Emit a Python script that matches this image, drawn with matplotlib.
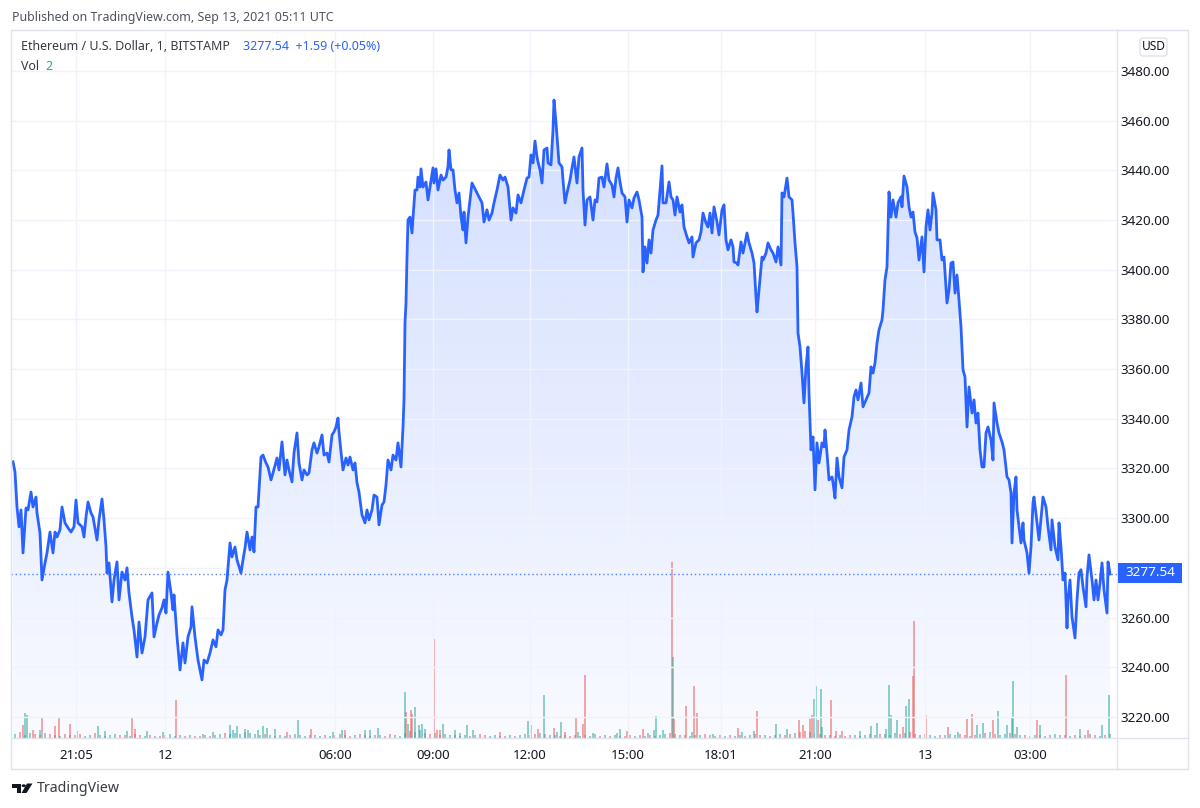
import numpy as np
import matplotlib
matplotlib.use("Agg")
import matplotlib.pyplot as plt
from matplotlib.patches import Rectangle, FancyBboxPatch, Polygon, Circle
from matplotlib.lines import Line2D

plt.rcParams['font.family'] = ['Noto Sans', 'DejaVu Sans']

# --- price series (bar index on the time axis, close price in USD) ---
bar = [13, 15, 17, 19, 21, 23, 26, 28, 31, 33, 36, 37, 40, 42, 45, 47, 50, 53, 55, 57,
       60, 62, 65, 68, 71, 74, 76, 78, 82, 84, 86, 88, 91, 93, 97, 99, 102, 104, 106, 107,
       109, 112, 114, 117, 119, 122, 125, 127, 129, 132, 134, 137, 139, 142, 145, 148, 152, 154, 157, 159,
       162, 164, 166, 168, 171, 173, 174, 177, 180, 183, 185, 188, 191, 192, 195, 198, 202, 204, 207, 210,
       213, 216, 218, 221, 223, 225, 227, 230, 232, 235, 237, 241, 243, 245, 247, 250, 252, 254, 256, 258,
       261, 263, 266, 268, 271, 273, 277, 279, 282, 285, 287, 289, 292, 294, 297, 299, 302, 304, 307, 309,
       312, 314, 317, 319, 322, 324, 327, 329, 332, 334, 336, 338, 339, 341, 343, 346, 348, 350, 353, 355,
       357, 359, 362, 365, 367, 369, 372, 374, 377, 379, 382, 384, 386, 388, 391, 393, 396, 398, 401, 403,
       404, 405, 406, 407, 408, 410, 412, 413, 415, 417, 418, 420, 421, 423, 426, 428, 430, 433, 434, 436,
       438, 441, 443, 446, 448, 449, 451, 453, 455, 457, 459, 461, 463, 464, 466, 468, 472, 474, 477, 479,
       482, 484, 487, 489, 492, 494, 497, 500, 503, 505, 508, 511, 513, 516, 518, 521, 524, 527, 529, 531,
       533, 535, 537, 538, 540, 542, 544, 547, 548, 551, 553, 554, 556, 558, 559, 562, 563, 565, 567, 570,
       572, 574, 577, 579, 582, 583, 585, 587, 590, 593, 595, 597, 599, 602, 604, 607, 609, 612, 614, 616,
       618, 620, 622, 625, 627, 629, 632, 634, 637, 639, 642, 643, 645, 647, 649, 651, 653, 656, 658, 660,
       662, 663, 666, 669, 671, 673, 675, 677, 680, 682, 684, 687, 689, 692, 693, 696, 699, 701, 703, 706,
       708, 710, 712, 714, 717, 719, 722, 724, 726, 728, 731, 733, 734, 737, 738, 741, 743, 747, 749, 752,
       754, 756, 757, 759, 762, 763, 766, 768, 771, 773, 776, 778, 781, 782, 784, 787, 789, 792, 793, 795,
       797, 798, 800, 802, 804, 806, 808, 809, 811, 813, 815, 817, 819, 822, 824, 825, 827, 829, 832, 833,
       835, 837, 839, 842, 844, 847, 849, 852, 854, 856, 858, 861, 863, 866, 869, 871, 873, 875, 877, 879,
       882, 883, 885, 887, 889, 891, 893, 896, 898, 901, 902, 904, 907, 909, 911, 913, 915, 917, 919, 922,
       924, 926, 928, 930, 932, 933, 936, 937, 940, 942, 944, 947, 949, 951, 953, 955, 957, 959, 961, 963,
       965, 967, 969, 972, 974, 976, 978, 980, 982, 984, 986, 988, 991, 993, 994, 997, 999, 1002, 1004, 1007,
       1009, 1011, 1012, 1014, 1016, 1017, 1019, 1021, 1023, 1024, 1027, 1028, 1029, 1031, 1033, 1034, 1037, 1039, 1042, 1043,
       1046, 1048, 1051, 1052, 1055, 1058, 1059, 1061, 1063, 1065, 1067, 1068, 1070, 1072, 1075, 1077, 1079, 1081, 1083, 1086,
       1087, 1089, 1092, 1094, 1096, 1098, 1100, 1102, 1104, 1107, 1108, 1110]

price = [3322.7, 3318.6, 3304.5, 3296.5, 3303.3, 3286.0, 3304.1, 3303.3, 3310.5, 3304.5, 3308.5, 3302.1, 3294.0, 3275.1, 3282.0, 3286.0, 3294.4, 3286.0, 3294.4, 3292.4,
         3295.3, 3304.5, 3298.1, 3296.1, 3294.4, 3296.5, 3307.3, 3298.1, 3296.5, 3292.4, 3300.5, 3306.5, 3302.1, 3300.5, 3291.2, 3299.3, 3307.7, 3299.3, 3288.4, 3277.9,
         3282.0, 3266.3, 3275.1, 3282.4, 3267.1, 3278.3, 3275.1, 3280.0, 3269.9, 3260.2, 3255.0, 3244.1, 3258.2, 3245.7, 3252.2, 3267.1, 3269.9, 3252.2, 3257.8, 3261.0,
         3263.9, 3267.1, 3261.8, 3278.3, 3269.9, 3263.1, 3269.1, 3252.2, 3238.9, 3249.8, 3241.7, 3252.2, 3256.2, 3264.3, 3252.2, 3242.9, 3234.9, 3242.9, 3241.7, 3245.7,
         3251.0, 3248.2, 3255.0, 3253.0, 3255.0, 3271.1, 3275.1, 3290.0, 3284.4, 3288.4, 3283.2, 3277.9, 3283.2, 3288.0, 3294.4, 3287.2, 3292.4, 3286.4, 3304.5, 3304.5,
         3324.6, 3325.4, 3322.2, 3320.6, 3315.4, 3318.2, 3324.2, 3319.4, 3330.7, 3317.4, 3323.4, 3319.4, 3314.6, 3326.2, 3334.3, 3322.2, 3315.4, 3319.4, 3317.4, 3318.2,
         3327.5, 3330.3, 3326.2, 3328.7, 3333.5, 3325.4, 3326.2, 3322.6, 3333.5, 3334.7, 3336.7, 3340.3, 3334.7, 3326.6, 3319.4, 3324.2, 3321.4, 3324.6, 3319.4, 3322.2,
         3314.2, 3310.5, 3301.3, 3298.1, 3303.3, 3299.3, 3303.3, 3309.3, 3308.5, 3297.3, 3305.3, 3306.5, 3313.4, 3323.4, 3319.4, 3325.4, 3323.4, 3330.3, 3320.6, 3336.7,
         3347.6, 3378.6, 3386.6, 3405.1, 3420.0, 3421.2, 3414.8, 3420.8, 3432.1, 3432.1, 3437.3, 3433.3, 3440.6, 3433.3, 3435.3, 3428.1, 3433.3, 3441.0, 3434.9, 3440.6,
         3432.1, 3438.1, 3436.1, 3437.3, 3441.4, 3448.2, 3440.2, 3440.2, 3432.1, 3426.9, 3430.9, 3421.2, 3416.0, 3423.2, 3410.8, 3421.2, 3434.9, 3433.3, 3430.9, 3429.3,
         3426.9, 3419.2, 3424.1, 3420.0, 3422.8, 3426.9, 3432.1, 3438.1, 3436.1, 3437.3, 3433.3, 3420.0, 3424.9, 3422.8, 3430.1, 3426.9, 3432.1, 3436.9, 3437.3, 3446.2,
         3443.0, 3451.8, 3445.4, 3443.4, 3440.2, 3434.9, 3448.2, 3449.0, 3443.0, 3442.2, 3456.3, 3468.3, 3459.1, 3448.2, 3443.0, 3441.4, 3436.1, 3426.9, 3430.9, 3436.1,
         3441.0, 3445.4, 3434.9, 3445.4, 3449.0, 3432.1, 3418.0, 3428.1, 3429.3, 3420.0, 3428.1, 3427.3, 3436.9, 3437.3, 3433.3, 3442.6, 3436.1, 3434.1, 3429.3, 3436.9,
         3441.0, 3435.3, 3430.9, 3429.3, 3419.2, 3428.1, 3424.9, 3428.9, 3431.3, 3428.1, 3421.2, 3399.1, 3409.2, 3402.7, 3412.0, 3406.7, 3416.0, 3420.0, 3422.0, 3432.1,
         3441.8, 3426.9, 3426.9, 3435.3, 3429.3, 3428.1, 3422.0, 3429.3, 3423.2, 3426.1, 3417.2, 3413.2, 3410.8, 3413.2, 3405.1, 3410.8, 3412.0, 3415.2, 3422.8, 3418.8,
         3417.2, 3422.8, 3414.8, 3425.3, 3419.2, 3414.0, 3424.1, 3426.1, 3412.0, 3408.0, 3412.0, 3409.2, 3403.1, 3402.7, 3401.9, 3411.2, 3406.7, 3414.8, 3410.8, 3406.7,
         3402.7, 3389.0, 3383.0, 3391.9, 3405.1, 3403.9, 3406.7, 3410.8, 3408.0, 3406.7, 3403.1, 3409.2, 3401.9, 3430.9, 3429.3, 3436.9, 3429.3, 3428.1, 3422.8, 3410.8,
         3401.1, 3374.5, 3368.9, 3358.4, 3346.4, 3360.9, 3368.9, 3350.4, 3327.5, 3332.7, 3311.4, 3330.3, 3322.2, 3330.3, 3328.7, 3335.5, 3326.2, 3315.4, 3316.6, 3314.2,
         3308.1, 3324.2, 3316.6, 3312.2, 3324.6, 3327.5, 3335.5, 3340.7, 3348.8, 3351.6, 3347.6, 3354.4, 3344.8, 3347.6, 3350.4, 3360.9, 3358.4, 3362.5, 3370.5, 3375.8,
         3379.8, 3383.8, 3395.9, 3401.1, 3431.3, 3421.2, 3428.1, 3421.2, 3426.9, 3429.3, 3425.3, 3437.7, 3433.3, 3425.3, 3421.2, 3423.2, 3415.2, 3412.8, 3403.9, 3413.2,
         3399.1, 3417.2, 3424.1, 3416.0, 3422.8, 3430.9, 3424.1, 3412.0, 3412.0, 3403.9, 3405.1, 3386.6, 3391.9, 3402.7, 3403.1, 3390.6, 3397.9, 3387.8, 3377.0, 3359.7,
         3356.8, 3336.7, 3352.8, 3342.3, 3347.6, 3338.3, 3342.3, 3327.5, 3320.6, 3320.6, 3334.3, 3336.7, 3331.5, 3323.4, 3346.4, 3338.3, 3334.3, 3330.7, 3327.5, 3316.6,
         3315.4, 3310.1, 3290.0, 3310.1, 3316.6, 3303.3, 3296.5, 3290.0, 3298.1, 3291.2, 3286.0, 3282.0, 3277.9, 3288.4, 3306.1, 3308.5, 3298.1, 3291.2, 3304.5, 3308.5,
         3304.5, 3296.5, 3287.2, 3299.3, 3288.4, 3283.2, 3298.1, 3288.4, 3275.1, 3277.9, 3255.8, 3267.1, 3275.1, 3260.2, 3251.8, 3267.1, 3277.9, 3279.2, 3272.3, 3264.3,
         3276.3, 3285.2, 3275.1, 3267.1, 3275.1, 3267.1, 3273.9, 3282.0, 3271.1, 3261.8, 3282.4, 3277.54]

last_price = 3277.54

# --- volume: larger prints (bar, size, direction) ---
spike_bar = [23, 25, 27, 33, 40, 42, 55, 59, 70, 77, 98, 105, 127, 132, 135, 147, 163, 176, 203, 213,
             230, 233, 237, 245, 248, 258, 263, 267, 275, 287, 298, 311, 333, 342, 345, 365, 370, 378, 405, 406,
             408, 411, 412, 415, 419, 422, 425, 434, 437, 440, 443, 455, 460, 467, 473, 500, 528, 531, 538, 544,
             554, 557, 561, 565, 576, 578, 583, 585, 593, 617, 620, 627, 643, 648, 654, 656, 663, 672, 673, 674,
             686, 692, 694, 697, 713, 738, 742, 754, 757, 776, 787, 799, 803, 810, 812, 814, 816, 818, 821, 822,
             831, 836, 842, 860, 871, 877, 886, 889, 891, 897, 903, 906, 909, 913, 914, 926, 948, 958, 967, 972,
             977, 983, 993, 998, 1007, 1012, 1013, 1017, 1037, 1040, 1066, 1080, 1088, 1102, 1109]
spike_vol = [13, 25, 23, 8, 8, 20, 12, 21, 14, 7, 12, 7, 7, 21, 9, 7, 6, 38, 4, 6,
             13, 8, 12, 9, 8, 8, 12, 10, 9, 6, 18, 9, 6, 8, 8, 8, 8, 10, 46, 26,
             14, 28, 24, 31, 13, 14, 9, 99, 8, 8, 14, 8, 5, 13, 8, 6, 17, 13, 9, 43,
             10, 6, 16, 6, 21, 6, 14, 63, 5, 5, 9, 7, 9, 5, 8, 22, 8, 176, 81, 19,
             32, 6, 52, 25, 4, 10, 6, 7, 27, 14, 9, 18, 13, 19, 23, 39, 52, 18, 49, 11,
             38, 7, 7, 7, 12, 15, 9, 53, 23, 18, 11, 32, 39, 62, 117, 23, 11, 6, 19, 24,
             13, 15, 18, 27, 13, 21, 57, 11, 18, 13, 63, 9, 8, 13, 43]
spike_dir = ("rggrgrrrrggggrrggrgg"
             "gggggggggrgrggrggggr"
             "grrggggrrrgggggrggrg"
             "rggrrgrrgggrrggggrgr"
             "rgrrgrggrggrrrrggrgg"
             "rrrgggggggrggrrrrgrr"
             "gg" "rgggggrgrg")

# --- volume: small prints every 5 bars from bar 15 ---
small_vol = [4, 6, 3, 5, 4, 3, 5, 4, 3, 2, 4, 3, 3, 4, 2, 3, 5, 3, 2, 3, 4, 3,
             3, 2, 4, 3, 2, 3, 2, 2, 3, 4, 2, 3, 2, 3, 2, 2, 3, 2, 3, 4, 5, 4,
             5, 4, 6, 5, 4, 3, 4, 3, 2, 3, 2, 3, 4, 3, 2, 3, 3, 2, 3, 2, 3, 4,
             3, 2, 3, 4, 3, 2, 3, 3, 2, 4, 3, 2, 5, 7, 6, 8, 5, 4, 5, 3, 4, 3,
             3, 2, 3, 2, 3, 4, 3, 2, 3, 2, 2, 3, 2, 3, 4, 3, 4, 5, 4, 3, 3, 2,
             3, 2, 3, 2, 3, 2, 4, 2, 3, 2, 3, 2, 2, 3, 2, 3, 2, 3, 2, 3, 4, 5,
             4, 3, 3, 2, 3, 3, 4, 3, 2, 3, 2, 3, 2, 3, 2, 3, 4, 3, 3, 2, 3, 4,
             3, 4, 5, 6, 7, 6, 5, 4, 3, 3, 2, 3, 2, 3, 3, 2, 3, 4, 3, 4, 4, 3,
             5, 4, 5, 6, 4, 3, 4, 3, 2, 3, 3, 4, 3, 4, 3, 2, 3, 4, 5, 6, 4, 3,
             4, 5, 4, 3, 3, 2, 3, 3, 2, 3, 4, 3, 3, 2, 3, 2, 3, 4, 3, 2, 3, 4]
small_dir = ("grggrrgrggrgrrggrgrggr"
             "rgrrgrgrrgggrgrrgrggrg"
             "ggrgggrgrggrgggrggrgrg"
             "grgrggrgrrgggrggrrgrgg"
             "rggrgrrgggrgrggrrgrggr"
             "grrgrggrgrggrrgrgrgggr"
             "rgrgggrrgrgrggrgrrgrgg"
             "rrgrrgggrgrgrrgggrgrgg"
             "grgrrgrggrgggrrgrgrgrg"
             "ggrgrrgrgrggrgrgrgrgrg")

time_pos = [76, 165, 335, 433, 530, 628, 721, 815, 925, 1030]
time_lab = ["21:05", "12", "06:00", "09:00", "12:00", "15:00", "18:01", "21:00", "13", "03:00"]
price_ticks = [3220, 3240, 3260, 3280, 3300, 3320, 3340, 3360, 3380, 3400, 3420, 3440, 3460, 3480]

BLUE = '#2962FF'
GRID = '#f0f3fa'
BORDER = '#e0e3eb'
TEXT = '#131722'

W, H = 1200, 808
def fx(x):
    return x / W
def fy(y):
    return 1 - y / H

fig = plt.figure(figsize=(12, 8.08), dpi=100)
fig.patch.set_facecolor('white')

rect = [fx(11), fy(738), (1117 - 11) / W, (738 - 30) / H]
ax = fig.add_axes(rect)
axv = ax.twinx()
axl = ax.twinx()

x0, x1 = 11, 1117
y0, y1 = 3211.5, 3496.5
for a in (ax, axl):
    a.set_xlim(x0, x1)
    a.set_ylim(y0, y1)
axv.set_xlim(x0, x1)
axv.set_ylim(0, 708)

for a in (ax, axv, axl):
    for s in a.spines.values():
        s.set_visible(False)
axv.set_yticks([])
axl.set_yticks([])
axl.set_xticks([])
axv.set_xticks([])

# area gradient under the line
bar_a = np.array(bar)
price_a = np.array(price)
poly = ax.fill_between(bar_a, price_a, y0, facecolor='none', edgecolor='none')
n = 256
grad = np.zeros((n, 1, 4))
grad[:, 0, 0] = 41 / 255
grad[:, 0, 1] = 98 / 255
grad[:, 0, 2] = 1.0
grad[:, 0, 3] = np.linspace(0.03, 0.21, n)
im = ax.imshow(grad, extent=[x0, x1, y0, price_a.max()], origin='lower',
               aspect='auto', zorder=1, interpolation='bilinear')
im.set_clip_path(poly.get_paths()[0], transform=ax.transData)
ax.set_xlim(x0, x1)
ax.set_ylim(y0, y1)

# volume bars
up_c = (38 / 255, 166 / 255, 154 / 255, 0.5)
dn_c = (239 / 255, 83 / 255, 80 / 255, 0.5)
small_bar = np.arange(15, 1111, 5)
axv.bar(small_bar, small_vol, width=1.3,
        color=[up_c if d == 'g' else dn_c for d in small_dir], linewidth=0)
axv.bar(spike_bar, spike_vol, width=1.3,
        color=[up_c if d == 'g' else dn_c for d in spike_dir], linewidth=0)

# grid
for p in price_ticks:
    axl.axhline(p, color=GRID, lw=1, zorder=0.5)
for t in time_pos:
    axl.axvline(t, color=GRID, lw=1, zorder=0.5)

# price line
axl.plot(bar_a, price_a, color=BLUE, lw=2, zorder=3, solid_joinstyle='round')
axl.axhline(last_price, color=BLUE, lw=1, ls=(0, (1, 2)), alpha=0.8, zorder=2)

# axes ticks
ax.yaxis.tick_right()
ax.set_yticks(price_ticks)
ax.set_yticklabels([f"{p:.2f}" for p in price_ticks])
ax.tick_params(axis='y', length=0, pad=2.5, labelsize=9.7, labelcolor=TEXT)
ax.set_xticks(time_pos)
ax.set_xticklabels(time_lab)
ax.tick_params(axis='x', length=0, pad=8, labelsize=9.5, labelcolor=TEXT)
for lab in ax.get_xticklabels():
    if lab.get_text() == "13":
        lab.set_fontweight('bold')

# frame
fig.add_artist(Rectangle((fx(11), fy(769)), (1188 - 11) / W, (769 - 30) / H,
                         transform=fig.transFigure, fill=False, edgecolor=BORDER, lw=1))
fig.add_artist(Line2D([fx(11), fx(1188)], [fy(738), fy(738)], color=BORDER, lw=1))
fig.add_artist(Line2D([fx(1117), fx(1117)], [fy(30), fy(769)], color=BORDER, lw=1))

# last price label (sits over the 3280.00 tick label, as in the original)
fig.add_artist(Rectangle((fx(1118), fy(583)), 64 / W, 20 / H, transform=fig.transFigure,
                         facecolor=BLUE, edgecolor='none', zorder=5))
fig.text(fx(1150), fy(573), f"{last_price:.2f}", color='white', fontsize=9.7,
         ha='center', va='center', zorder=6)

# USD box
fig.add_artist(FancyBboxPatch((fx(1140), fy(56)), 27 / W, 18 / H, transform=fig.transFigure,
                              boxstyle="round,pad=0,rounding_size=0.003",
                              facecolor='white', edgecolor=BORDER, lw=1))
fig.text(fx(1153.5), fy(46.5), "USD", color=TEXT, fontsize=8.6, ha='center', va='center')

# header texts
fig.text(fx(12), fy(17), "Published on TradingView.com, Sep 13, 2021 05:11 UTC",
         color='#50535e', fontsize=8.95, ha='left', va='center')
fig.text(fx(21), fy(47), "Ethereum / U.S. Dollar, 1, BITSTAMP", color='#363a45',
         fontsize=8.95, ha='left', va='center')
fig.text(fx(243), fy(47), "3277.54  +1.59 (+0.05%)", color=BLUE,
         fontsize=8.95, ha='left', va='center')
fig.text(fx(21), fy(66), "Vol", color='#363a45', fontsize=8.95, ha='left', va='center')
fig.text(fx(45), fy(66), "2", color='#26a69a', fontsize=8.95, ha='left', va='center')

# TradingView logo
k = '#131722'
fig.add_artist(Polygon([(fx(12), fy(783.5)), (fx(21), fy(783.5)), (fx(21), fy(793)),
                        (fx(16.5), fy(793)), (fx(16.5), fy(787.5)), (fx(12), fy(787.5))],
                       closed=True, transform=fig.transFigure, facecolor=k, edgecolor='none'))
fig.add_artist(Circle((fx(23.7), fy(785.7)), 2.1 / W, transform=fig.transFigure,
                      facecolor=k, edgecolor='none'))
fig.add_artist(Polygon([(fx(27), fy(783.5)), (fx(32.5), fy(783.5)), (fx(26.5), fy(793)),
                        (fx(21.5), fy(793))],
                       closed=True, transform=fig.transFigure, facecolor=k, edgecolor='none'))
fig.text(fx(37), fy(789), "TradingView", color='#363a45', fontsize=10.2, ha='left', va='center')

fig.savefig("out.png", dpi=100, facecolor='white')
